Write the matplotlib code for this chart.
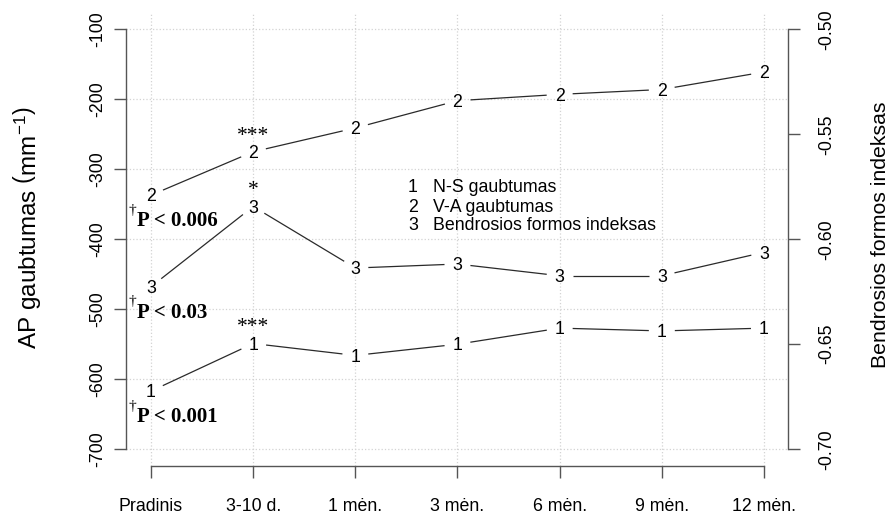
import numpy as np
import matplotlib
matplotlib.use('Agg')
import matplotlib.pyplot as plt

# ---------------- data ----------------
categories = ['Pradinis', '3-10 d.', '1 mėn.', '3 mėn.', '6 mėn.', '9 mėn.', '12 mėn.']
ns_values = [-617, -549, -566, -550, -527, -531, -527]          # series 1 (left axis)
va_values = [-337, -275, -241, -202, -193, -186, -161]          # series 2 (left axis)
index_values = [-0.6226, -0.5844, -0.6137, -0.6118, -0.6174, -0.6174, -0.6062]  # series 3 (right axis)
left_ticks = [-700, -600, -500, -400, -300, -200, -100]
right_ticks = [-0.70, -0.65, -0.60, -0.55, -0.50]
right_tick_labels = ['-0.70', '-0.65', '-0.60', '-0.55', '-0.50']
legend_labels = ['N-S gaubtumas', 'V-A gaubtumas', 'Bendrosios formos indeksas']
series_symbols = ['1', '2', '3']
p_labels = ['P < 0.001', 'P < 0.006', 'P < 0.03']   # for series 1, 2, 3
star_labels = ['***', '***', '*']                  # at 3-10 d. for series 1, 2, 3

# ---------------- style ----------------
SANS = 'Liberation Sans'
SERIF = 'Liberation Serif'
plt.rcParams['font.family'] = [SANS, 'DejaVu Sans']
plt.rcParams['mathtext.fontset'] = 'custom'
plt.rcParams['mathtext.rm'] = SANS
plt.rcParams['mathtext.it'] = SANS + ':italic'
plt.rcParams['mathtext.bf'] = SANS + ':bold'

AX_COL = '#555555'
LINE_COL = '#2a2a2a'
GRID_COL = '#d3d3d3'
FS = 12.75
FS_LAB = 15.3

W, H = 895, 521
fig = plt.figure(figsize=(W / 100, H / 100), dpi=100)
left_px, right_px, top_px, bottom_px = 126.5, 788.5, 12.5, 466.0
ax = fig.add_axes([left_px / W, 1 - bottom_px / H, (right_px - left_px) / W, (bottom_px - top_px) / H])
ax2 = ax.twinx()

x = np.arange(1, len(categories) + 1)
ax.set_xlim(0.76, 7.24)
ax.set_ylim(-724, -76)
ax2.set_ylim(-0.708, -0.492)

# grid (R grid(): lightgray dotted)
for yv in left_ticks:
    ax.axhline(yv, color=GRID_COL, ls=':', lw=0.9, zorder=0)
for xv in x:
    ax.axvline(xv, color=GRID_COL, ls=':', lw=0.9, zorder=0)

# spines as R axes (only over tick range)
for a in (ax, ax2):
    a.spines['top'].set_visible(False)
ax.spines['right'].set_visible(False)
ax2.spines['left'].set_visible(False)
ax2.spines['bottom'].set_visible(False)
ax.spines['left'].set_bounds(left_ticks[0], left_ticks[-1])
ax.spines['bottom'].set_bounds(x[0], x[-1])
ax2.spines['right'].set_bounds(right_ticks[0], right_ticks[-1])
for sp in (ax.spines['left'], ax.spines['bottom'], ax2.spines['right']):
    sp.set_color(AX_COL)
    sp.set_linewidth(1.0)

ax.set_xticks(x)
ax.set_xticklabels(categories, fontsize=FS)
ax.set_yticks(left_ticks)
ax.set_yticklabels([str(v) for v in left_ticks], fontsize=FS, rotation=90, va='center')
ax2.set_yticks(right_ticks)
ax2.set_yticklabels(right_tick_labels, fontsize=FS, rotation=90, va='center')
ax.tick_params(axis='x', length=8.6, width=1.0, color=AX_COL, pad=14.5)
ax.tick_params(axis='y', length=8.6, width=1.0, color=AX_COL, pad=6)
ax2.tick_params(axis='y', length=8.6, width=1.0, color=AX_COL, pad=13)

# ---------------- series with R type="b" style gaps ----------------
GAP = 13.0


def gapped_line(a, xs, ys):
    pts = a.transData.transform(np.column_stack([xs, ys]))
    inv = a.transData.inverted()
    for p0, p1 in zip(pts[:-1], pts[1:]):
        d = p1 - p0
        L = np.hypot(*d)
        if L <= 2 * GAP:
            continue
        u = d / L
        seg = inv.transform(np.vstack([p0 + u * GAP, p1 - u * GAP]))
        a.plot(seg[:, 0], seg[:, 1], color=LINE_COL, lw=0.9, solid_capstyle='butt')


def symbols(a, xs, ys, sym):
    for xi, yi in zip(xs, ys):
        a.annotate(sym, (xi, yi), xytext=(0, -4.5), textcoords='offset points',
                   ha='center', va='baseline', fontsize=FS, color='black')


series = [(ax, ns_values), (ax, va_values), (ax2, index_values)]
for (a, vals), sym, star, plab in zip(series, series_symbols, star_labels, p_labels):
    gapped_line(a, x, vals)
    symbols(a, x, vals, sym)
    # significance stars above the 3-10 d. point
    a.annotate(star, (x[1], vals[1]), xytext=(0, 8.0), textcoords='offset points',
               ha='center', va='baseline', fontsize=15.5, fontfamily=SERIF,
               color='black')
    # P-value note below the baseline point
    a.annotate(plab, (0.862, vals[0]), xytext=(0, -22.5), textcoords='offset points',
               ha='left', va='baseline', fontsize=15, fontfamily=SERIF,
               fontweight='bold', color='black')
    a.annotate('\u2020', (0.862, vals[0]), xytext=(-0.8, -13.5), textcoords='offset points',
               ha='right', va='baseline', fontsize=11, fontfamily=SERIF,
               color='black')

# legend (bty="n")
leg_y = [0.618, 0.5755, 0.535]
for sym, lab, yy in zip(series_symbols, legend_labels, leg_y):
    ax.text(0.4328, yy, sym, transform=ax.transAxes, ha='center', va='center_baseline', fontsize=FS)
    ax.text(0.463, yy, lab, transform=ax.transAxes, ha='left', va='center_baseline', fontsize=FS)

# axis titles
fig.text(27 / W, 1 - 228 / H, r'AP gaubtumas $\left(\mathrm{mm}^{-1}\right)$', rotation=90,
         ha='center', va='center', fontsize=17.5)
fig.text(881 / W, 1 - 235 / H, 'Bendrosios formos indeksas', rotation=90,
         ha='center', va='center', fontsize=FS_LAB)

fig.savefig('out.png', dpi=100)
